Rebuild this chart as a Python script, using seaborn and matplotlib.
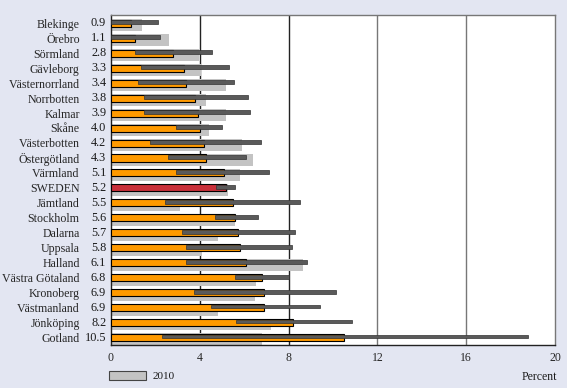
import seaborn as sns
import matplotlib.pyplot as plt
import matplotlib.transforms as mtransforms
from matplotlib.patches import Patch
import pandas as pd

# data
regions = ["Blekinge", "Örebro", "Sörmland", "Gävleborg", "Västernorrland",
           "Norrbotten", "Kalmar", "Skåne", "Västerbotten", "Östergötland",
           "Värmland", "SWEDEN", "Jämtland", "Stockholm", "Dalarna", "Uppsala",
           "Halland", "Västra Götaland", "Kronoberg", "Västmanland",
           "Jönköping", "Gotland"]
values = [0.9, 1.1, 2.8, 3.3, 3.4, 3.8, 3.9, 4.0, 4.2, 4.3, 5.1, 5.2, 5.5,
          5.6, 5.7, 5.8, 6.1, 6.8, 6.9, 6.9, 8.2, 10.5]
values_2010 = [1.4, 2.6, 3.95, 4.05, 5.2, 4.3, 5.2, 4.4, 5.9, 6.4, 5.8, 5.25,
               3.1, 5.6, 4.8, 4.1, 8.65, 6.55, 6.5, 4.8, 7.2, 6.8]
range_low = [0.0, 0.0, 1.1, 1.35, 1.2, 1.5, 1.5, 2.95, 1.75, 2.55, 2.95, 4.75,
             2.45, 4.7, 3.2, 3.4, 3.4, 5.6, 3.75, 4.5, 5.65, 2.3]
range_high = [2.1, 2.2, 4.55, 5.3, 5.55, 6.15, 6.25, 5.0, 6.75, 6.1, 7.1, 5.6,
              8.5, 6.6, 8.3, 8.15, 8.85, 8.0, 10.15, 9.4, 10.85, 18.8]
x_ticks = [0, 4, 8, 12, 16, 20]

ORANGE = "#FF9A00"
RED = "#C9303A"
GRAY = "#C3C3C3"
DARK = "#5A5A5A"
BG = "#E3E6F2"

sns.set_style("white")
plt.rcParams["font.family"] = ["Liberation Serif", "DejaVu Serif"]
plt.rcParams["text.color"] = "#1a1a1a"

df = pd.DataFrame({"region": regions, "value": values, "v2010": values_2010,
                   "lo": range_low, "hi": range_high})

fig = plt.figure(figsize=(5.67, 3.88), dpi=100, facecolor=BG)
ax = fig.add_axes([111 / 567, 1 - 345 / 388, 444 / 567, 330 / 388])
ax.set_facecolor("white")

colors = [RED if r == "SWEDEN" else ORANGE for r in regions]
sns.barplot(data=df, y="region", x="value", hue="region", palette=colors,
            orient="h", legend=False, ax=ax, saturation=1,
            edgecolor="black", linewidth=0.8, zorder=3)

# move the main bars into the upper part of each row
for i, p in enumerate(ax.patches):
    p.set_y(i - 0.23)
    p.set_height(0.47)

pos = range(len(regions))
ax.barh([i + 0.13 for i in pos], df["v2010"], height=0.8, color=GRAY,
        zorder=2, linewidth=0)
ax.barh([i - 0.07 for i in pos], df["hi"] - df["lo"], left=df["lo"],
        height=0.26, color=DARK, edgecolor="#333333", linewidth=0.5, zorder=4)

ax.set_xlim(0, 20)
ax.set_ylim(21.5, -0.55)
ax.set_xticks(x_ticks)
ax.set_xticklabels([str(t) for t in x_ticks], fontsize=8.5)
for t in [4, 8]:
    ax.axvline(t, color="#222222", lw=1.0, zorder=1)
for t in [12, 16]:
    ax.axvline(t, color="#777777", lw=1.0, zorder=1)

ax.set_yticks(list(pos))
ax.set_yticklabels(regions, fontsize=8.6)
ax.tick_params(axis="y", length=0, pad=22.5)
ax.tick_params(axis="x", length=0, pad=5)
ax.set_xlabel("")
ax.set_ylabel("")

trans = mtransforms.blended_transform_factory(ax.transAxes, ax.transData)
for i, v in enumerate(values):
    ax.annotate(f"{v:.1f}", xy=(0, i), xycoords=trans, xytext=(-3.5, 0),
                textcoords="offset points", ha="right", va="center",
                fontsize=8.8)

for side in ["left", "bottom"]:
    ax.spines[side].set_color("#222222")
    ax.spines[side].set_linewidth(1.0)
for side in ["top", "right"]:
    ax.spines[side].set_color("#777777")
    ax.spines[side].set_linewidth(1.0)

fig.text(557 / 567, 1 - 377 / 388, "Percent", ha="right", va="center",
         fontsize=8.5)

handle = Patch(facecolor=GRAY, edgecolor="#444444", linewidth=0.8)
fig.legend([handle], ["2010"], loc="center left",
           bbox_to_anchor=(109 / 567, 1 - 376 / 388), frameon=False,
           handlelength=3.3, handleheight=0.9, handletextpad=0.6,
           borderpad=0, borderaxespad=0, fontsize=8)

fig.savefig("out.png", dpi=100, facecolor=BG)
